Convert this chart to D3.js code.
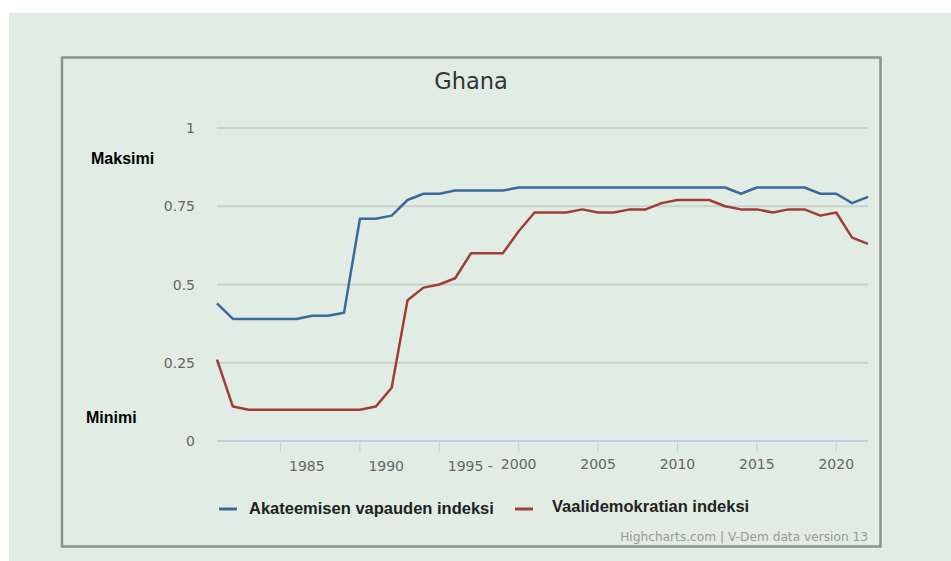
<!DOCTYPE html>
<meta charset="utf-8">
<style>
  body { margin: 0; background: #fff; }
  svg { display: block; }
</style>
<body>
<div id="chart"></div>
<script src="https://d3js.org/d3.v7.min.js"></script>
<script>

// data
var years = d3.range(1981, 2023);
var academicFreedom = [0.44, 0.39, 0.39, 0.39, 0.39, 0.39, 0.40, 0.40, 0.41, 0.71,
  0.71, 0.72, 0.77, 0.79, 0.79, 0.80, 0.80, 0.80, 0.80, 0.81,
  0.81, 0.81, 0.81, 0.81, 0.81, 0.81, 0.81, 0.81, 0.81, 0.81,
  0.81, 0.81, 0.81, 0.79, 0.81, 0.81, 0.81, 0.81, 0.79, 0.79,
  0.76, 0.78];
var electoralDemocracy = [0.26, 0.11, 0.10, 0.10, 0.10, 0.10, 0.10, 0.10, 0.10, 0.10,
  0.11, 0.17, 0.45, 0.49, 0.50, 0.52, 0.60, 0.60, 0.60, 0.67,
  0.73, 0.73, 0.73, 0.74, 0.73, 0.73, 0.74, 0.74, 0.76, 0.77,
  0.77, 0.77, 0.75, 0.74, 0.74, 0.73, 0.74, 0.74, 0.72, 0.73,
  0.65, 0.63];
var seriesNames = ["Akateemisen vapauden indeksi", "Vaalidemokratian indeksi"];
var seriesColors = ["#3a6a9c", "#a13c3b"];
var xTickYears = [1985, 1990, 1995, 2000, 2005, 2010, 2015, 2020];
var xTickLabels = ["1985", "1990", "1995 -", "2000", "2005", "2010", "2015", "2020"];
var yTicks = [0, 0.25, 0.5, 0.75, 1];
var yTickLabels = ["0", "0.25", "0.5", "0.75", "1"];
var bandLabels = ["Maksimi", "Minimi"];
var bandValues = [0.9, 0.075];

var w = 951, h = 561;
var bg = "#e1ece4";

var svg = d3.select("#chart")
    .append("svg")
    .attr("width", w)
    .attr("height", h);

svg.append("rect")
    .attr("x", 9)
    .attr("y", 13)
    .attr("width", w - 9)
    .attr("height", h - 13)
    .attr("fill", bg);

svg.append("rect")
    .attr("x", 62)
    .attr("y", 57.5)
    .attr("width", 818.5)
    .attr("height", 489)
    .attr("fill", bg)
    .attr("stroke", "#8a938c")
    .attr("stroke-width", 2.5);

svg.append("text")
    .text("Ghana")
    .attr("x", 471)
    .attr("y", 89)
    .attr("text-anchor", "middle")
    .attr("font-family", "DejaVu Sans")
    .attr("font-size", 22.5)
    .attr("fill", "#333");

var x = d3.scaleLinear().domain([1981, 2022]).range([217, 868]);
var y = d3.scaleLinear().domain([0, 1]).range([441, 128]);

// grid
svg.selectAll(".grid")
    .data(yTicks.filter(function(d) { return d > 0; }))
    .enter()
    .append("line")
    .attr("class", "grid")
    .attr("x1", 217)
    .attr("x2", 868)
    .attr("y1", function(d) { return y(d); })
    .attr("y2", function(d) { return y(d); })
    .attr("stroke", "#c9d2cb")
    .attr("stroke-width", 2);

svg.selectAll(".ylab")
    .data(yTicks)
    .enter()
    .append("text")
    .attr("class", "ylab")
    .text(function(d, i) { return yTickLabels[i]; })
    .attr("x", 195)
    .attr("y", function(d) { return y(d) + 5; })
    .attr("text-anchor", "end")
    .attr("font-family", "DejaVu Sans")
    .attr("font-size", 14)
    .attr("fill", "#666");

svg.selectAll(".band")
    .data(bandValues)
    .enter()
    .append("text")
    .attr("class", "band")
    .text(function(d, i) { return bandLabels[i]; })
    .attr("x", function(d, i) { return i == 0 ? 91 : 86; })
    .attr("y", function(d) { return y(d) + 5; })
    .attr("font-family", "Liberation Sans")
    .attr("font-weight", "bold")
    .attr("font-size", 16)
    .attr("fill", "#000");

// x axis
svg.append("line")
    .attr("x1", 217)
    .attr("x2", 868)
    .attr("y1", y(0))
    .attr("y2", y(0))
    .attr("stroke", "#c0d0e0")
    .attr("stroke-width", 2);

svg.selectAll(".xtick")
    .data(xTickYears)
    .enter()
    .append("line")
    .attr("class", "xtick")
    .attr("x1", function(d) { return x(d); })
    .attr("x2", function(d) { return x(d); })
    .attr("y1", y(0))
    .attr("y2", y(0) + 11)
    .attr("stroke", "#c0d0e0")
    .attr("stroke-width", 1);

svg.selectAll(".xlab")
    .data(xTickYears)
    .enter()
    .append("text")
    .attr("class", "xlab")
    .text(function(d, i) { return xTickLabels[i]; })
    .attr("x", function(d) { return d < 2000 ? x(d) + 8.5 : x(d); })
    .attr("y", function(d) { return d < 2000 ? 471 : 469; })
    .attr("text-anchor", function(d) { return d < 2000 ? "start" : "middle"; })
    .attr("font-family", "DejaVu Sans")
    .attr("font-size", 14)
    .attr("fill", "#666");

// lines
var line = d3.line()
    .x(function(d, i) { return x(years[i]); })
    .y(function(d) { return y(d); });

[academicFreedom, electoralDemocracy].forEach(function(s, i) {
    svg.append("path")
        .attr("d", line(s))
        .attr("fill", "none")
        .attr("stroke", seriesColors[i])
        .attr("stroke-width", 2.5)
        .attr("stroke-linejoin", "round");
});

// legend
var legendX = [219, 515];
var legendTextX = [249, 552];
var legendY = [514, 512];
seriesNames.forEach(function(name, i) {
    svg.append("line")
        .attr("x1", legendX[i])
        .attr("x2", legendX[i] + 18)
        .attr("y1", 509)
        .attr("y2", 509)
        .attr("stroke", seriesColors[i])
        .attr("stroke-width", 3);
    svg.append("text")
        .text(name)
        .attr("x", legendTextX[i])
        .attr("y", legendY[i])
        .attr("font-family", "Liberation Sans")
        .attr("font-weight", "bold")
        .attr("font-size", 16.5)
        .attr("fill", "#222");
});

svg.append("text")
    .text("Highcharts.com | V-Dem data version 13")
    .attr("x", 868)
    .attr("y", 541)
    .attr("text-anchor", "end")
    .attr("font-family", "DejaVu Sans")
    .attr("font-size", 12.2)
    .attr("fill", "#999");
</script>
